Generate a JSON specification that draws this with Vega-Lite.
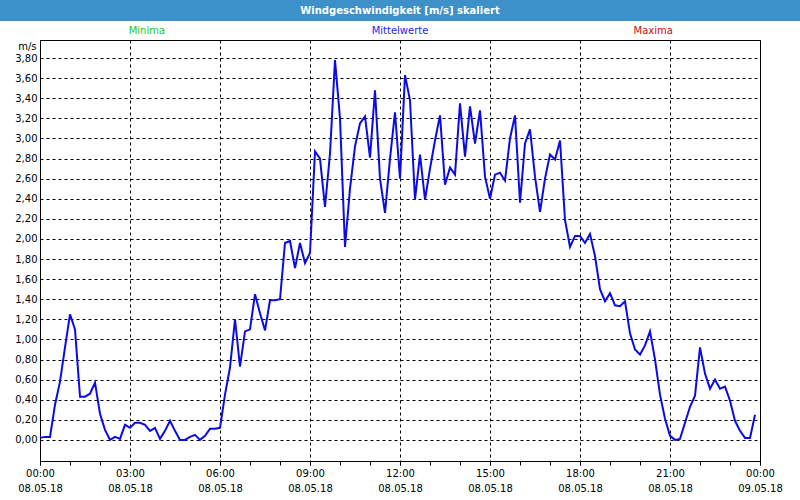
{
"$schema": "https://vega.github.io/schema/vega-lite/v6.json",
"padding": 0,
"background": "white",
"spacing": 0,
"bounds": "flush",
"center": true,
"config": {"view": {"stroke": null}, "font": "DejaVu Sans",
"locale": {"number": {"decimal": ",", "thousands": ".", "grouping": [3], "currency": ["", " €"]}}},
"resolve": {"scale": {"x": "independent", "y": "independent", "color": "independent"}},
"datasets": {"wind": [
{"t":"2018/05/08 00:00","v":0.02},{"t":"2018/05/08 00:10","v":0.03},{"t":"2018/05/08 00:20","v":0.03},{"t":"2018/05/08 00:30","v":0.35},{"t":"2018/05/08 00:40","v":0.58},{"t":"2018/05/08 00:50","v":0.92},
{"t":"2018/05/08 01:00","v":1.25},{"t":"2018/05/08 01:10","v":1.10},{"t":"2018/05/08 01:20","v":0.43},{"t":"2018/05/08 01:30","v":0.43},{"t":"2018/05/08 01:40","v":0.46},{"t":"2018/05/08 01:50","v":0.57},
{"t":"2018/05/08 02:00","v":0.26},{"t":"2018/05/08 02:10","v":0.10},{"t":"2018/05/08 02:20","v":0.00},{"t":"2018/05/08 02:30","v":0.03},{"t":"2018/05/08 02:40","v":0.01},{"t":"2018/05/08 02:50","v":0.15},
{"t":"2018/05/08 03:00","v":0.12},{"t":"2018/05/08 03:10","v":0.17},{"t":"2018/05/08 03:20","v":0.17},{"t":"2018/05/08 03:30","v":0.15},{"t":"2018/05/08 03:40","v":0.09},{"t":"2018/05/08 03:50","v":0.12},
{"t":"2018/05/08 04:00","v":0.01},{"t":"2018/05/08 04:10","v":0.09},{"t":"2018/05/08 04:20","v":0.19},{"t":"2018/05/08 04:30","v":0.09},{"t":"2018/05/08 04:40","v":0.00},{"t":"2018/05/08 04:50","v":0.00},
{"t":"2018/05/08 05:00","v":0.03},{"t":"2018/05/08 05:10","v":0.05},{"t":"2018/05/08 05:20","v":0.00},{"t":"2018/05/08 05:30","v":0.04},{"t":"2018/05/08 05:40","v":0.11},{"t":"2018/05/08 05:50","v":0.11},
{"t":"2018/05/08 06:00","v":0.12},{"t":"2018/05/08 06:10","v":0.45},{"t":"2018/05/08 06:20","v":0.72},{"t":"2018/05/08 06:30","v":1.20},{"t":"2018/05/08 06:40","v":0.73},{"t":"2018/05/08 06:50","v":1.08},
{"t":"2018/05/08 07:00","v":1.10},{"t":"2018/05/08 07:10","v":1.45},{"t":"2018/05/08 07:20","v":1.26},{"t":"2018/05/08 07:30","v":1.09},{"t":"2018/05/08 07:40","v":1.39},{"t":"2018/05/08 07:50","v":1.39},
{"t":"2018/05/08 08:00","v":1.40},{"t":"2018/05/08 08:10","v":1.96},{"t":"2018/05/08 08:20","v":1.98},{"t":"2018/05/08 08:30","v":1.71},{"t":"2018/05/08 08:40","v":1.96},{"t":"2018/05/08 08:50","v":1.76},
{"t":"2018/05/08 09:00","v":1.86},{"t":"2018/05/08 09:10","v":2.87},{"t":"2018/05/08 09:20","v":2.80},{"t":"2018/05/08 09:30","v":2.32},{"t":"2018/05/08 09:40","v":2.85},{"t":"2018/05/08 09:50","v":3.78},
{"t":"2018/05/08 10:00","v":3.20},{"t":"2018/05/08 10:10","v":1.92},{"t":"2018/05/08 10:20","v":2.50},{"t":"2018/05/08 10:30","v":2.92},{"t":"2018/05/08 10:40","v":3.15},{"t":"2018/05/08 10:50","v":3.22},
{"t":"2018/05/08 11:00","v":2.81},{"t":"2018/05/08 11:10","v":3.48},{"t":"2018/05/08 11:20","v":2.60},{"t":"2018/05/08 11:30","v":2.26},{"t":"2018/05/08 11:40","v":2.80},{"t":"2018/05/08 11:50","v":3.26},
{"t":"2018/05/08 12:00","v":2.60},{"t":"2018/05/08 12:10","v":3.63},{"t":"2018/05/08 12:20","v":3.38},{"t":"2018/05/08 12:30","v":2.39},{"t":"2018/05/08 12:40","v":2.84},{"t":"2018/05/08 12:50","v":2.39},
{"t":"2018/05/08 13:00","v":2.70},{"t":"2018/05/08 13:10","v":2.98},{"t":"2018/05/08 13:20","v":3.23},{"t":"2018/05/08 13:30","v":2.54},{"t":"2018/05/08 13:40","v":2.71},{"t":"2018/05/08 13:50","v":2.64},
{"t":"2018/05/08 14:00","v":3.35},{"t":"2018/05/08 14:10","v":2.82},{"t":"2018/05/08 14:20","v":3.32},{"t":"2018/05/08 14:30","v":2.95},{"t":"2018/05/08 14:40","v":3.28},{"t":"2018/05/08 14:50","v":2.62},
{"t":"2018/05/08 15:00","v":2.40},{"t":"2018/05/08 15:10","v":2.64},{"t":"2018/05/08 15:20","v":2.66},{"t":"2018/05/08 15:30","v":2.58},{"t":"2018/05/08 15:40","v":3.00},{"t":"2018/05/08 15:50","v":3.23},
{"t":"2018/05/08 16:00","v":2.36},{"t":"2018/05/08 16:10","v":2.95},{"t":"2018/05/08 16:20","v":3.09},{"t":"2018/05/08 16:30","v":2.62},{"t":"2018/05/08 16:40","v":2.27},{"t":"2018/05/08 16:50","v":2.60},
{"t":"2018/05/08 17:00","v":2.84},{"t":"2018/05/08 17:10","v":2.79},{"t":"2018/05/08 17:20","v":2.98},{"t":"2018/05/08 17:30","v":2.19},{"t":"2018/05/08 17:40","v":1.92},{"t":"2018/05/08 17:50","v":2.03},
{"t":"2018/05/08 18:00","v":2.03},{"t":"2018/05/08 18:10","v":1.96},{"t":"2018/05/08 18:20","v":2.05},{"t":"2018/05/08 18:30","v":1.83},{"t":"2018/05/08 18:40","v":1.50},{"t":"2018/05/08 18:50","v":1.38},
{"t":"2018/05/08 19:00","v":1.46},{"t":"2018/05/08 19:10","v":1.34},{"t":"2018/05/08 19:20","v":1.33},{"t":"2018/05/08 19:30","v":1.38},{"t":"2018/05/08 19:40","v":1.06},{"t":"2018/05/08 19:50","v":0.90},
{"t":"2018/05/08 20:00","v":0.85},{"t":"2018/05/08 20:10","v":0.94},{"t":"2018/05/08 20:20","v":1.08},{"t":"2018/05/08 20:30","v":0.80},{"t":"2018/05/08 20:40","v":0.45},{"t":"2018/05/08 20:50","v":0.21},
{"t":"2018/05/08 21:00","v":0.04},{"t":"2018/05/08 21:10","v":0.00},{"t":"2018/05/08 21:20","v":0.01},{"t":"2018/05/08 21:30","v":0.17},{"t":"2018/05/08 21:40","v":0.33},{"t":"2018/05/08 21:50","v":0.44},
{"t":"2018/05/08 22:00","v":0.92},{"t":"2018/05/08 22:10","v":0.66},{"t":"2018/05/08 22:20","v":0.51},{"t":"2018/05/08 22:30","v":0.60},{"t":"2018/05/08 22:40","v":0.51},{"t":"2018/05/08 22:50","v":0.53},
{"t":"2018/05/08 23:00","v":0.39},{"t":"2018/05/08 23:10","v":0.19},{"t":"2018/05/08 23:20","v":0.09},{"t":"2018/05/08 23:30","v":0.02},{"t":"2018/05/08 23:40","v":0.02},{"t":"2018/05/08 23:50","v":0.25}
]},
"vconcat": [
{
"width": 800, "height": 21,
"view": {"fill": "#3c91c8", "stroke": null},
"data": {"values": [{"t": "Windgeschwindigkeit [m/s] skaliert"}]},
"mark": {"type": "text", "color": "white", "fontWeight": "bold", "fontSize": 10, "font": "DejaVu Sans", "baseline": "middle"},
"encoding": {"text": {"field": "t"}}
},
{
"width": 800, "height": 19,
"data": {"values": [{"n": "Minima"}, {"n": "Mittelwerte"}, {"n": "Maxima"}]},
"mark": {"type": "text", "fontSize": 10, "font": "DejaVu Sans", "baseline": "middle"},
"encoding": {
"x": {"field": "n", "type": "nominal", "sort": null, "scale": {"type": "point", "padding": 0.58}, "axis": null},
"text": {"field": "n"},
"color": {"field": "n", "type": "nominal", "sort": null, "scale": {"domain": ["Minima", "Mittelwerte", "Maxima"], "range": ["#22c81a", "#2424f0", "#c40e0e"]}, "legend": null}
}
},
{
"width": 720, "height": 421,
"view": {"stroke": "black", "strokeWidth": 1},
"data": {"name": "wind"},
"resolve": {"axis": {"x": "independent"}},
"layer": [
{
"mark": {"type": "line", "color": "#0b0be6", "strokeWidth": 2, "opacity": 0},
"encoding": {
"x": {"field": "t", "type": "temporal",
"scale": {"domain": [{"year": 2018, "month": 5, "date": 8, "hours": 0}, {"year": 2018, "month": 5, "date": 9, "hours": 0}]},
"axis": {"title": null, "orient": "bottom", "tickCount": 24, "labels": false, "tickSize": 4, "tickColor": "black", "domain": false, "grid": false}},
"y": {"field": "v", "type": "quantitative",
"scale": {"domain": [-0.21, 3.98], "nice": false, "zero": false},
"axis": {"title": "m/s", "titleAngle": 0, "titleAlign": "right", "titleBaseline": "middle", "titleX": -4, "titleY": 6,
"titleFont": "DejaVu Sans", "titleFontSize": 10, "titleFontWeight": "normal", "titleColor": "black",
"values": [0, 0.2, 0.4, 0.6, 0.8, 1.0, 1.2, 1.4, 1.6, 1.8, 2.0, 2.2, 2.4, 2.6, 2.8, 3.0, 3.2, 3.4, 3.6, 3.8],
"tickCount": 20, "format": ".2f", "labelOverlap": false, "labelBound": false,
"labelFont": "DejaVu Sans", "labelFontSize": 10, "labelColor": "black", "labelPadding": 3,
"ticks": false, "tickSize": 0, "domain": false,
"grid": true, "gridColor": "black", "gridDash": [3, 3]}}
}
},
{
"mark": {"type": "line", "color": "#0b0be6", "strokeWidth": 2, "opacity": 0},
"encoding": {
"x": {"field": "t", "type": "temporal",
"axis": {"title": null, "orient": "bottom", "offset": 15,
"values": [{"year": 2018, "month": 5, "date": 8, "hours": 0}, {"year": 2018, "month": 5, "date": 8, "hours": 3}, {"year": 2018, "month": 5, "date": 8, "hours": 6}, {"year": 2018, "month": 5, "date": 8, "hours": 9}, {"year": 2018, "month": 5, "date": 8, "hours": 12}, {"year": 2018, "month": 5, "date": 8, "hours": 15}, {"year": 2018, "month": 5, "date": 8, "hours": 18}, {"year": 2018, "month": 5, "date": 8, "hours": 21}, {"year": 2018, "month": 5, "date": 9, "hours": 0}],
"format": "%d.%m.%y", "labelOverlap": false, "labelFlush": false, "labelFont": "DejaVu Sans", "labelFontSize": 10, "labelColor": "black",
"labelPadding": 3, "tickSize": 4, "tickOpacity": 0, "domain": false, "grid": false}},
"y": {"field": "v", "type": "quantitative",
"axis": {"title": "m/s", "titleAngle": 0, "titleAlign": "right", "titleBaseline": "middle", "titleX": -4, "titleY": 6,
"titleFont": "DejaVu Sans", "titleFontSize": 10, "titleFontWeight": "normal", "titleColor": "black",
"values": [0, 0.2, 0.4, 0.6, 0.8, 1.0, 1.2, 1.4, 1.6, 1.8, 2.0, 2.2, 2.4, 2.6, 2.8, 3.0, 3.2, 3.4, 3.6, 3.8],
"tickCount": 20, "format": ".2f", "labelOverlap": false, "labelBound": false,
"labelFont": "DejaVu Sans", "labelFontSize": 10, "labelColor": "black", "labelPadding": 3,
"ticks": false, "tickSize": 0, "domain": false,
"grid": true, "gridColor": "black", "gridDash": [3, 3]}}
}
},
{
"mark": {"type": "line", "color": "#0b0be6", "strokeWidth": 2},
"encoding": {
"x": {"field": "t", "type": "temporal",
"axis": {"title": null, "orient": "bottom",
"values": [{"year": 2018, "month": 5, "date": 8, "hours": 0}, {"year": 2018, "month": 5, "date": 8, "hours": 3}, {"year": 2018, "month": 5, "date": 8, "hours": 6}, {"year": 2018, "month": 5, "date": 8, "hours": 9}, {"year": 2018, "month": 5, "date": 8, "hours": 12}, {"year": 2018, "month": 5, "date": 8, "hours": 15}, {"year": 2018, "month": 5, "date": 8, "hours": 18}, {"year": 2018, "month": 5, "date": 8, "hours": 21}, {"year": 2018, "month": 5, "date": 9, "hours": 0}],
"format": "%H:%M", "labelOverlap": false, "labelFlush": false, "labelFont": "DejaVu Sans", "labelFontSize": 10, "labelColor": "black",
"labelPadding": 3, "tickSize": 4, "tickColor": "black", "domain": false,
"grid": true, "gridColor": "black", "gridDash": [3, 3]}},
"y": {"field": "v", "type": "quantitative",
"axis": {"title": "m/s", "titleAngle": 0, "titleAlign": "right", "titleBaseline": "middle", "titleX": -4, "titleY": 6,
"titleFont": "DejaVu Sans", "titleFontSize": 10, "titleFontWeight": "normal", "titleColor": "black",
"values": [0, 0.2, 0.4, 0.6, 0.8, 1.0, 1.2, 1.4, 1.6, 1.8, 2.0, 2.2, 2.4, 2.6, 2.8, 3.0, 3.2, 3.4, 3.6, 3.8],
"tickCount": 20, "format": ".2f", "labelOverlap": false, "labelBound": false,
"labelFont": "DejaVu Sans", "labelFontSize": 10, "labelColor": "black", "labelPadding": 3,
"ticks": false, "tickSize": 0, "domain": false,
"grid": true, "gridColor": "black", "gridDash": [3, 3]}}
}
}
]
}
]
}
